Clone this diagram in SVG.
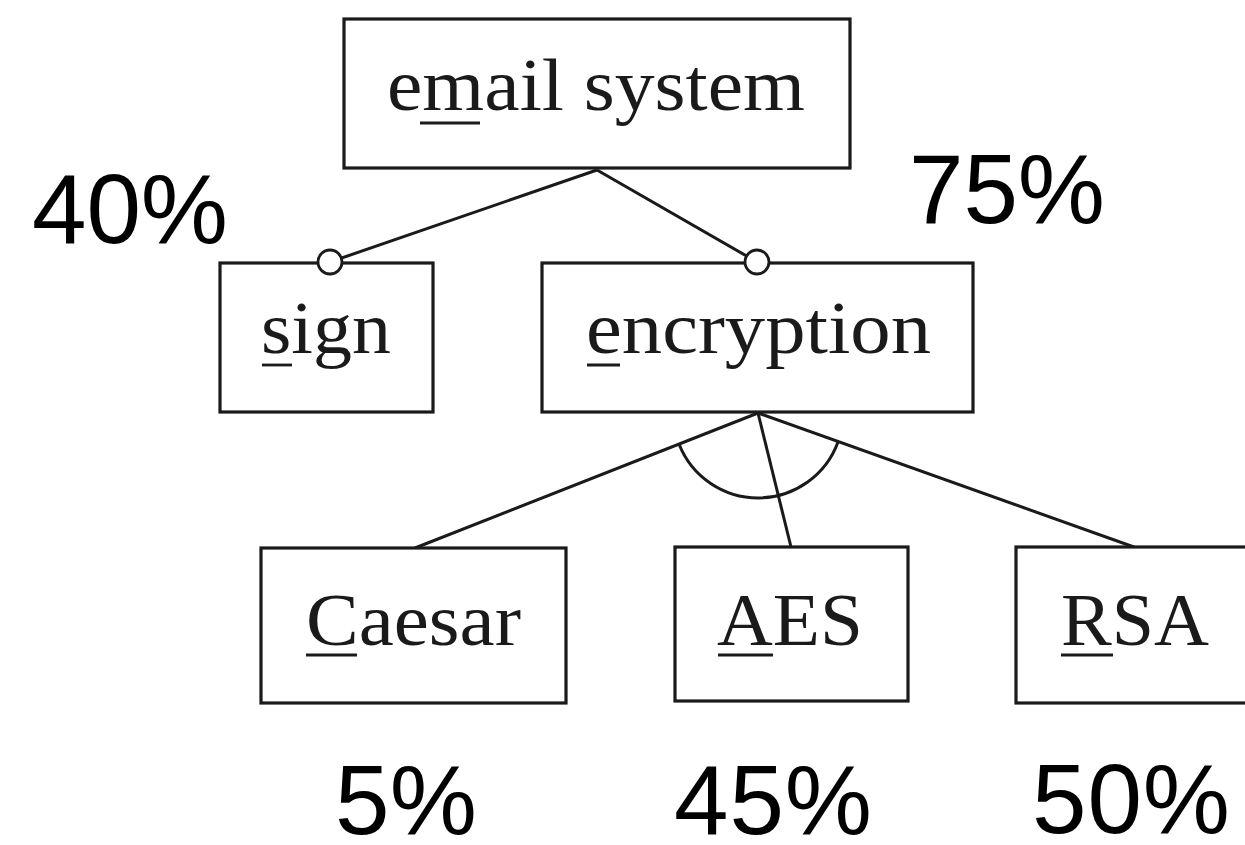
<svg xmlns="http://www.w3.org/2000/svg" width="1245" height="845" viewBox="0 0 1245 845">
<style>
.box{fill:#fff;stroke:#1a1a1a;stroke-width:3.2}
.lbl{font-family:"Liberation Serif","Times New Roman",serif;font-size:74px;fill:#1a1a1a}
.ul{stroke:#1a1a1a;stroke-width:2.8}
.pct{font-family:"Liberation Sans",Arial,sans-serif;font-size:98px;fill:#000}
.edge{stroke:#1a1a1a;stroke-width:3;fill:none}
.dot{fill:#fff;stroke:#1a1a1a;stroke-width:2.8}
</style>
<rect width="1245" height="845" fill="#fff"/>
<g id="connectors">
<line class="edge" x1="597" y1="170" x2="330" y2="262"/>
<line class="edge" x1="597" y1="170" x2="757" y2="262"/>
<line class="edge" x1="758" y1="413" x2="415" y2="548"/>
<line class="edge" x1="758" y1="413" x2="791" y2="547"/>
<line class="edge" x1="758" y1="413" x2="1134" y2="547"/>
<path class="edge" d="M 679 444 A 85 85 0 0 0 838 442"/>
</g>
<g id="email-system">
<rect class="box" x="344" y="19" width="506" height="149"/>
<text class="lbl" x="387" y="110" textLength="418" lengthAdjust="spacingAndGlyphs">email system</text>
<line class="ul" x1="420" y1="123" x2="480" y2="123"/>
</g>
<g id="sign">
<rect class="box" x="220" y="263" width="213" height="149"/>
<text class="lbl" x="261" y="353" textLength="130" lengthAdjust="spacingAndGlyphs">sign</text>
<line class="ul" x1="262" y1="365" x2="292" y2="365"/>
</g>
<g id="encryption">
<rect class="box" x="542" y="263" width="431" height="149"/>
<text class="lbl" x="586" y="353" textLength="345" lengthAdjust="spacingAndGlyphs">encryption</text>
<line class="ul" x1="587" y1="365" x2="620" y2="365"/>
</g>
<g id="caesar">
<rect class="box" x="261" y="548" width="305" height="155"/>
<text class="lbl" x="306" y="645" textLength="215" lengthAdjust="spacingAndGlyphs">Caesar</text>
<line class="ul" x1="306" y1="655" x2="357" y2="655"/>
</g>
<g id="aes">
<rect class="box" x="675" y="547" width="233" height="154"/>
<text class="lbl" x="717" y="645" textLength="146" lengthAdjust="spacingAndGlyphs">AES</text>
<line class="ul" x1="718" y1="655" x2="773" y2="655"/>
</g>
<g id="rsa">
<rect class="box" x="1016" y="547" width="240" height="156"/>
<text class="lbl" x="1061" y="645" textLength="148" lengthAdjust="spacingAndGlyphs">RSA</text>
<line class="ul" x1="1061" y1="655" x2="1113" y2="655"/>
</g>
<g id="optional-markers">
<circle class="dot" cx="330" cy="262" r="12"/>
<circle class="dot" cx="757" cy="262" r="12"/>
</g>
<g id="percentages">
<text class="pct" x="32" y="243" textLength="196">40%</text>
<text class="pct" x="909" y="223" textLength="196">75%</text>
<text class="pct" x="335" y="834" textLength="142">5%</text>
<text class="pct" x="674" y="834" textLength="198">45%</text>
<text class="pct" x="1032" y="833" textLength="198">50%</text>
</g>
</svg>
